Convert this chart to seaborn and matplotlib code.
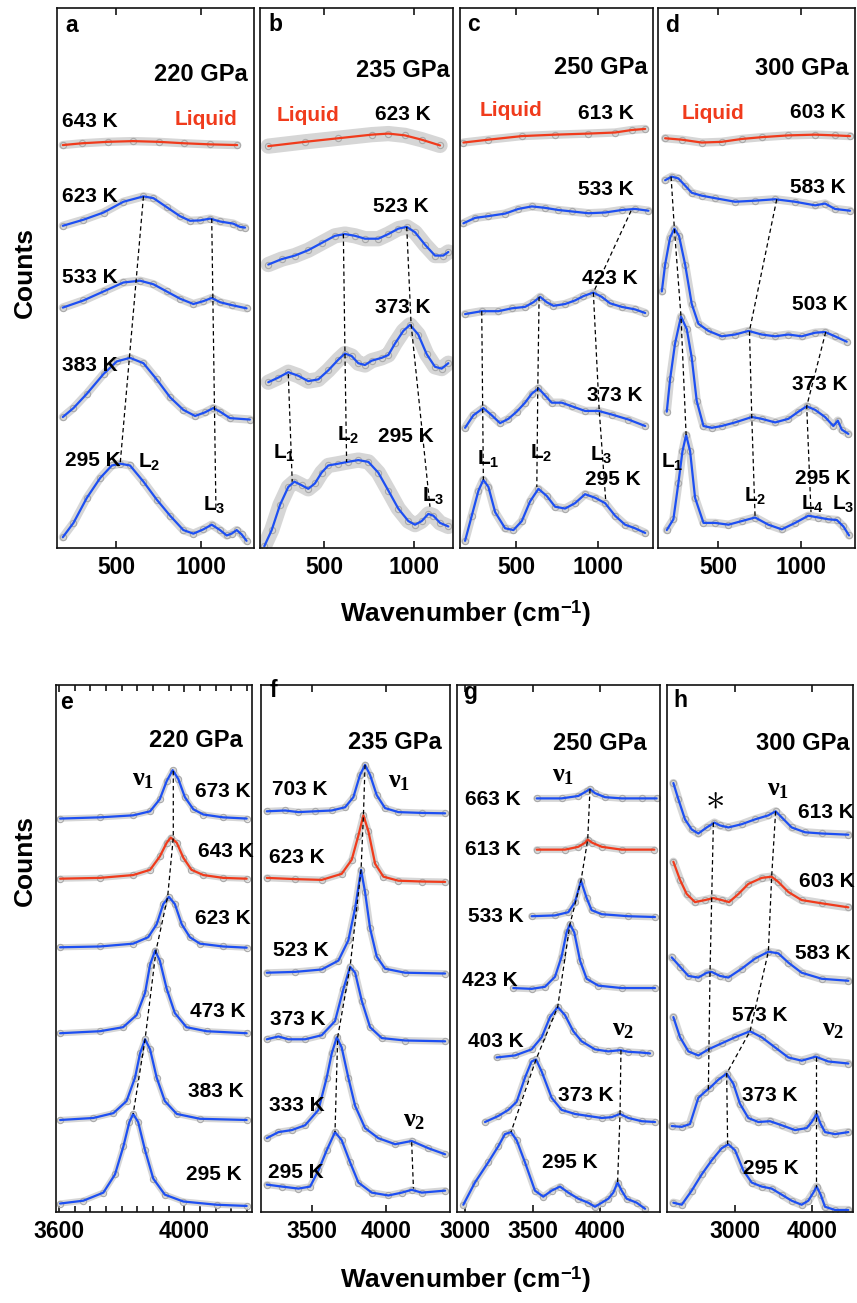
import matplotlib
matplotlib.use("Agg")
import matplotlib.pyplot as plt
import numpy as np
import seaborn as sns

sns.set_style("ticks")
plt.rcParams["font.family"] = ["Liberation Sans", "DejaVu Sans"]
plt.rcParams["font.weight"] = "bold"
plt.rcParams["text.color"] = "black"
plt.rcParams["xtick.color"] = "black"
plt.rcParams["mathtext.fontset"] = "custom"
plt.rcParams["mathtext.rm"] = "Liberation Serif"
plt.rcParams["mathtext.it"] = "Liberation Serif:bold"
plt.rcParams["mathtext.bf"] = "Liberation Sans:bold"

# spectra: x = wavenumber (cm-1),
# y = position in the frame read as picture rows (count axis drawn inverted)

# a : 220 GPa, lattice modes
a643_x = [186, 300, 450, 600, 750, 900, 1050, 1213]
a643_y = [407, 402, 398, 396, 398, 402, 405, 407]
a623_x = [186, 308, 426, 543, 661, 720, 798, 876, 935, 994, 1053, 1112, 1190, 1229, 1259]
a623_y = [632, 615, 595, 565, 550, 555, 580, 605, 618, 617, 612, 620, 626, 635, 637]
a533_x = [186, 308, 426, 543, 641, 720, 798, 876, 955, 1014, 1063, 1112, 1180, 1268]
a533_y = [860, 840, 815, 790, 785, 795, 815, 835, 850, 842, 833, 845, 853, 862]
a383_x = [186, 249, 328, 426, 504, 582, 661, 739, 818, 896, 965, 1023, 1072, 1112, 1170, 1288]
a383_y = [1165, 1140, 1100, 1045, 1010, 1000, 1015, 1060, 1110, 1145, 1162, 1152, 1140, 1150, 1168, 1172]
a295_x = [186, 249, 328, 406, 475, 524, 582, 661, 739, 818, 896, 955, 1014, 1063, 1112, 1151, 1180, 1210, 1239, 1268]
a295_y = [1500, 1460, 1390, 1335, 1300, 1295, 1300, 1345, 1395, 1440, 1480, 1490, 1478, 1465, 1480, 1495, 1490, 1480, 1492, 1510]
aL2_x, aL2_y = [661, 524], [550, 1295]
aL3_x, aL3_y = [1063, 1088], [612, 1425]

# b : 235 GPa
b623_x = [189, 393, 578, 763, 856, 948, 1041, 1143]
b623_y = [410, 398, 388, 378, 375, 380, 392, 408]
b523_x = [189, 263, 337, 411, 485, 559, 615, 671, 726, 800, 856, 911, 958, 1004, 1060, 1115, 1161, 1189]
b523_y = [740, 725, 715, 700, 680, 660, 655, 660, 668, 668, 655, 640, 635, 650, 685, 715, 715, 705]
b373_x = [189, 245, 300, 356, 411, 467, 522, 578, 615, 652, 689, 726, 763, 819, 856, 893, 939, 976, 1022, 1069, 1115, 1152, 1189]
b373_y = [1068, 1055, 1040, 1050, 1065, 1060, 1035, 1005, 988, 995, 1015, 1020, 1008, 1000, 992, 960, 925, 908, 935, 990, 1025, 1030, 1015]
b295_x = [167, 208, 254, 300, 334, 374, 411, 448, 485, 522, 578, 630, 689, 745, 800, 856, 911, 967, 1004, 1041, 1078, 1106, 1143, 1189]
b295_y = [1525, 1480, 1410, 1360, 1345, 1355, 1365, 1350, 1320, 1300, 1295, 1290, 1285, 1290, 1320, 1370, 1420, 1455, 1465, 1455, 1435, 1440, 1460, 1470]
bL1_x, bL1_y = [300, 322], [1045, 1345]
bL2_x, bL2_y = [606, 615, 624], [655, 990, 1290]
bL3_x, bL3_y = [958, 982, 1087], [635, 905, 1415]

# c : 250 GPa
c613_x = [178, 331, 535, 739, 943, 1106, 1208, 1290]
c613_y = [400, 392, 382, 378, 375, 372, 365, 362]
c533_x = [178, 249, 331, 433, 514, 596, 678, 759, 841, 943, 1045, 1147, 1228, 1310]
c533_y = [625, 610, 605, 598, 585, 578, 582, 588, 592, 597, 595, 588, 585, 590]
c423_x = [188, 290, 392, 474, 555, 606, 647, 688, 729, 800, 861, 912, 973, 1024, 1075, 1147, 1228, 1290]
c423_y = [878, 870, 870, 862, 858, 845, 830, 845, 855, 850, 840, 828, 818, 830, 848, 858, 865, 875]
c373_x = [188, 239, 300, 351, 402, 453, 504, 555, 596, 637, 678, 718, 780, 841, 922, 1004, 1086, 1188, 1290]
c373_y = [1195, 1160, 1140, 1160, 1182, 1170, 1150, 1125, 1100, 1085, 1105, 1125, 1125, 1135, 1148, 1148, 1158, 1172, 1190]
c295_x = [188, 229, 270, 300, 331, 372, 433, 484, 535, 586, 637, 688, 739, 800, 861, 922, 984, 1045, 1106, 1167, 1228, 1290]
c295_y = [1510, 1440, 1370, 1340, 1360, 1430, 1475, 1480, 1455, 1400, 1365, 1385, 1415, 1420, 1405, 1380, 1390, 1405, 1440, 1465, 1475, 1488]
cL1_x, cL1_y = [290, 300], [870, 1340]
cL2_x, cL2_y = [641, 633, 627], [830, 1085, 1360]
cL3_x, cL3_y = [1204, 973, 1008, 1049], [590, 818, 1140, 1400]

# d : 300 GPa
d603_x = [178, 279, 399, 520, 641, 762, 923, 1085, 1205, 1296]
d603_y = [388, 392, 400, 398, 390, 385, 380, 378, 380, 382]
d583_x = [178, 218, 258, 299, 339, 399, 480, 601, 722, 843, 964, 1085, 1145, 1205, 1296]
d583_y = [505, 495, 500, 520, 540, 548, 555, 565, 562, 558, 565, 575, 570, 585, 590]
d503_x = [158, 178, 208, 234, 262, 299, 339, 379, 440, 520, 601, 682, 762, 843, 923, 1004, 1085, 1145, 1205, 1276]
d503_y = [815, 740, 665, 640, 660, 740, 850, 905, 925, 940, 935, 925, 935, 940, 935, 940, 930, 928, 940, 955]
d373_x = [188, 208, 238, 274, 309, 339, 369, 410, 460, 520, 601, 702, 762, 843, 923, 984, 1034, 1085, 1145, 1195, 1222, 1246, 1286]
d373_y = [1150, 1060, 960, 885, 920, 1000, 1120, 1190, 1195, 1190, 1180, 1165, 1170, 1180, 1170, 1150, 1135, 1145, 1165, 1190, 1175, 1200, 1212]
d295_x = [188, 228, 258, 283, 305, 329, 359, 410, 480, 561, 641, 722, 802, 883, 964, 1044, 1105, 1165, 1216, 1256, 1290]
d295_y = [1480, 1450, 1350, 1260, 1215, 1260, 1390, 1460, 1460, 1465, 1455, 1445, 1465, 1478, 1460, 1440, 1445, 1450, 1452, 1470, 1495]
dL1_x, dL1_y = [214, 234, 274, 305], [495, 640, 885, 1215]
dL2_x, dL2_y = [853, 688, 702, 722], [558, 925, 1165, 1445]
dL4_x, dL4_y = [1149, 1034, 1060], [928, 1135, 1430]

# e : 220 GPa, vibron
e673_x = [3604, 3731, 3837, 3891, 3922, 3944, 3963, 3981, 4002, 4029, 4061, 4124, 4199]
e673_y = [418, 415, 410, 400, 370, 325, 298, 320, 365, 395, 408, 415, 418]
e643_x = [3604, 3731, 3837, 3891, 3922, 3944, 3957, 3976, 3997, 4023, 4061, 4124, 4199]
e643_y = [567, 565, 558, 545, 512, 478, 465, 478, 515, 545, 558, 565, 567]
e623_x = [3604, 3731, 3837, 3885, 3912, 3933, 3951, 3970, 3992, 4018, 4050, 4124, 4199]
e623_y = [737, 735, 728, 712, 680, 630, 612, 630, 680, 712, 728, 735, 738]
e473_x = [3604, 3731, 3805, 3848, 3875, 3891, 3907, 3922, 3944, 3970, 4007, 4071, 4199]
e473_y = [950, 945, 935, 905, 850, 780, 745, 770, 840, 900, 935, 945, 950]
e383_x = [3604, 3710, 3774, 3816, 3843, 3859, 3875, 3891, 3912, 3938, 3976, 4050, 4199]
e383_y = [1165, 1160, 1148, 1118, 1060, 1000, 965, 990, 1060, 1118, 1150, 1162, 1165]
e295_x = [3604, 3678, 3742, 3779, 3806, 3825, 3837, 3853, 3875, 3901, 3938, 3997, 4103, 4199]
e295_y = [1372, 1365, 1345, 1300, 1230, 1170, 1150, 1170, 1240, 1310, 1350, 1367, 1375, 1378]
ev1_x = [3965, 3965, 3947, 3910, 3875, 3837]
ev1_y = [300, 465, 612, 745, 965, 1150]

# f : 235 GPa
f703_x = [3196, 3320, 3410, 3522, 3635, 3725, 3781, 3826, 3860, 3894, 3939, 3995, 4085, 4243, 4401]
f703_y = [400, 398, 402, 400, 398, 390, 365, 310, 285, 310, 360, 392, 402, 404, 405]
f623_x = [3196, 3387, 3567, 3702, 3770, 3815, 3849, 3883, 3928, 3984, 4085, 4243, 4401]
f623_y = [565, 568, 570, 555, 520, 460, 410, 450, 530, 562, 572, 574, 575]
f523_x = [3196, 3387, 3567, 3680, 3747, 3793, 3833, 3860, 3894, 3939, 3995, 4130, 4401]
f523_y = [800, 798, 792, 770, 720, 640, 545, 600, 690, 760, 790, 800, 802]
f373_x = [3196, 3275, 3342, 3455, 3567, 3657, 3714, 3759, 3793, 3838, 3894, 3973, 4130, 4401]
f373_y = [965, 958, 965, 965, 955, 920, 840, 785, 800, 870, 935, 962, 968, 970]
f333_x = [3196, 3275, 3365, 3455, 3545, 3601, 3635, 3669, 3702, 3747, 3793, 3860, 3950, 4063, 4175, 4288, 4401]
f333_y = [1210, 1195, 1190, 1178, 1140, 1060, 1000, 960, 985, 1060, 1130, 1185, 1210, 1225, 1217, 1235, 1250]
f295_x = [3196, 3297, 3410, 3489, 3545, 3601, 3657, 3702, 3759, 3815, 3905, 4018, 4108, 4175, 4243, 4401]
f295_y = [1325, 1330, 1335, 1330, 1290, 1240, 1195, 1215, 1270, 1320, 1345, 1352, 1345, 1338, 1345, 1340]
fv1_x = [3860, 3849, 3833, 3759, 3675, 3657]
fv1_y = [285, 410, 545, 785, 960, 1195]
fv2_x, fv2_y = [4175, 4187], [1220, 1335]

# g : 250 GPa
g663_x = [3530, 3715, 3839, 3901, 3926, 3963, 4037, 4161, 4310, 4421]
g663_y = [368, 368, 362, 350, 345, 355, 365, 368, 368, 368]
g613_x = [3530, 3740, 3839, 3889, 3909, 3943, 4013, 4161, 4404]
g613_y = [495, 495, 488, 478, 470, 478, 488, 495, 495]
g533_x = [3492, 3666, 3765, 3814, 3859, 3901, 3938, 4013, 4211, 4409]
g533_y = [660, 658, 650, 625, 572, 615, 645, 655, 660, 662]
g423_x = [3356, 3492, 3591, 3666, 3715, 3752, 3777, 3809, 3852, 3901, 3988, 4161, 4409]
g423_y = [838, 840, 835, 810, 760, 700, 680, 700, 770, 815, 832, 838, 838]
g403_x = [3232, 3369, 3492, 3567, 3629, 3686, 3740, 3802, 3864, 3963, 4062, 4149, 4211, 4310, 4372]
g403_y = [1010, 1005, 990, 960, 910, 885, 905, 945, 970, 990, 995, 992, 996, 998, 1000]
g373_x = [3146, 3245, 3319, 3381, 3443, 3492, 3525, 3567, 3641, 3715, 3814, 3913, 4013, 4087, 4149, 4211, 4310, 4409]
g373_y = [1170, 1155, 1140, 1120, 1060, 1020, 1015, 1045, 1110, 1140, 1150, 1155, 1160, 1158, 1150, 1160, 1168, 1170]
g295_x = [2985, 3071, 3170, 3245, 3294, 3339, 3381, 3443, 3517, 3579, 3641, 3703, 3765, 3839, 3913, 3963, 4013, 4062, 4099, 4131, 4161, 4198, 4273, 4335]
g295_y = [1375, 1320, 1270, 1230, 1200, 1195, 1215, 1270, 1340, 1355, 1340, 1330, 1345, 1360, 1370, 1380, 1370, 1360, 1345, 1320, 1340, 1360, 1370, 1385]
gv1_x = [3926, 3909, 3859, 3777, 3686, 3525, 3339]
gv1_y = [345, 470, 572, 680, 885, 1015, 1195]
gv2_x, gv2_y = [4156, 4149, 4131], [992, 1150, 1320]

# h : 300 GPa
h613_x = [2196, 2261, 2348, 2435, 2522, 2631, 2731, 2804, 2913, 3087, 3261, 3435, 3530, 3609, 3739, 3913, 4130, 4478]
h613_y = [330, 370, 420, 445, 455, 440, 428, 435, 440, 432, 420, 410, 400, 415, 440, 452, 455, 458]
h603_x = [2196, 2283, 2370, 2478, 2609, 2718, 2826, 2922, 3044, 3174, 3348, 3478, 3565, 3696, 3869, 4130, 4478]
h603_y = [525, 570, 605, 625, 620, 615, 620, 625, 605, 580, 565, 562, 575, 600, 620, 628, 638]
h583_x = [2174, 2283, 2392, 2522, 2631, 2696, 2804, 2913, 3087, 3261, 3435, 3565, 3696, 3869, 4130, 4478]
h583_y = [762, 785, 808, 812, 800, 798, 808, 812, 790, 765, 748, 752, 775, 800, 815, 820]
h573_x = [2196, 2283, 2392, 2522, 2652, 2826, 3000, 3196, 3348, 3522, 3696, 3869, 4052, 4217, 4478]
h573_y = [910, 960, 995, 1005, 990, 975, 960, 945, 960, 985, 1010, 1018, 1008, 1020, 1025]
h373_x = [2174, 2305, 2413, 2522, 2609, 2674, 2783, 2891, 2978, 3065, 3174, 3304, 3456, 3609, 3782, 3935, 4000, 4065, 4117, 4174, 4304, 4478]
h373_y = [1180, 1182, 1175, 1110, 1095, 1085, 1065, 1050, 1075, 1125, 1160, 1170, 1168, 1178, 1190, 1185, 1170, 1150, 1175, 1195, 1200, 1195]
h295_x = [2196, 2305, 2435, 2565, 2696, 2826, 2913, 3000, 3109, 3217, 3348, 3478, 3609, 3739, 3869, 3956, 4022, 4065, 4117, 4174, 4304, 4478]
h295_y = [1370, 1375, 1340, 1300, 1265, 1235, 1225, 1240, 1290, 1320, 1330, 1335, 1350, 1365, 1375, 1365, 1345, 1330, 1350, 1380, 1388, 1388]
hst_x, hst_y = [2718, 2696, 2674, 2652], [428, 615, 800, 1095]
hv1_x = [3530, 3478, 3435, 3196, 2891, 2904]
hv1_y = [400, 562, 748, 945, 1050, 1225]
hv2_x, hv2_y = [4052, 4052], [1008, 1330]

BLUE = "#1d4ff2"
RED = "#f03b1c"

spectra = {
    "a": [(a643_x, a643_y, RED), (a623_x, a623_y, BLUE), (a533_x, a533_y, BLUE),
          (a383_x, a383_y, BLUE), (a295_x, a295_y, BLUE)],
    "b": [(b623_x, b623_y, RED), (b523_x, b523_y, BLUE), (b373_x, b373_y, BLUE),
          (b295_x, b295_y, BLUE)],
    "c": [(c613_x, c613_y, RED), (c533_x, c533_y, BLUE), (c423_x, c423_y, BLUE),
          (c373_x, c373_y, BLUE), (c295_x, c295_y, BLUE)],
    "d": [(d603_x, d603_y, RED), (d583_x, d583_y, BLUE), (d503_x, d503_y, BLUE),
          (d373_x, d373_y, BLUE), (d295_x, d295_y, BLUE)],
    "e": [(e673_x, e673_y, BLUE), (e643_x, e643_y, RED), (e623_x, e623_y, BLUE),
          (e473_x, e473_y, BLUE), (e383_x, e383_y, BLUE), (e295_x, e295_y, BLUE)],
    "f": [(f703_x, f703_y, BLUE), (f623_x, f623_y, RED), (f523_x, f523_y, BLUE),
          (f373_x, f373_y, BLUE), (f333_x, f333_y, BLUE), (f295_x, f295_y, BLUE)],
    "g": [(g663_x, g663_y, BLUE), (g613_x, g613_y, RED), (g533_x, g533_y, BLUE),
          (g423_x, g423_y, BLUE), (g403_x, g403_y, BLUE), (g373_x, g373_y, BLUE),
          (g295_x, g295_y, BLUE)],
    "h": [(h613_x, h613_y, BLUE), (h603_x, h603_y, RED), (h583_x, h583_y, BLUE),
          (h573_x, h573_y, BLUE), (h373_x, h373_y, BLUE), (h295_x, h295_y, BLUE)],
}
guides = {
    "a": [(aL2_x, aL2_y), (aL3_x, aL3_y)],
    "b": [(bL1_x, bL1_y), (bL2_x, bL2_y), (bL3_x, bL3_y)],
    "c": [(cL1_x, cL1_y), (cL2_x, cL2_y), (cL3_x, cL3_y)],
    "d": [(dL1_x, dL1_y), (dL2_x, dL2_y), (dL4_x, dL4_y)],
    "e": [(ev1_x, ev1_y)],
    "f": [(fv1_x, fv1_y), (fv2_x, fv2_y)],
    "g": [(gv1_x, gv1_y), (gv2_x, gv2_y)],
    "h": [(hst_x, hst_y), (hv1_x, hv1_y), (hv2_x, hv2_y)],
}

W, H = 857, 1303
fig = plt.figure(figsize=(W / 100, H / 100), dpi=100)


def box(l, r, t, b):
    return fig.add_axes([l / W, 1 - b / H, (r - l) / W, (b - t) / H])


frames = {
    "a": (57, 254, 8, 548), "b": (260, 453, 8, 548), "c": (460, 653, 8, 548), "d": (658, 855, 8, 548),
    "e": (56, 252, 685, 1212), "f": (261, 450, 685, 1212), "g": (457, 660, 685, 1212), "h": (667, 853, 685, 1212),
}
xlims = {"a": (152, 1312), "b": (143, 1215), "c": (157, 1338), "d": (135, 1326),
         "e": (3591, 4216), "f": (3157, 4434), "g": (2938, 4446), "h": (2113, 4539)}
xmajor = {"a": [500, 1000], "b": [500, 1000], "c": [500, 1000], "d": [500, 1000],
          "e": [3600, 4000], "f": [3500, 4000], "g": [3000, 3500, 4000], "h": [3000, 4000]}
band = {"a": 6, "b": 11, "c": 6, "d": 6, "e": 4.5, "f": 5, "g": 5, "h": 6}

axes = {}
for k, (l, r, t, b) in frames.items():
    ax = box(l, r, t, b)
    axes[k] = ax
    for x, y, col in spectra[k]:
        sns.lineplot(x=x, y=y, ax=ax, color="#d6d6d6", lw=band[k], estimator=None, sort=False,
                     solid_capstyle="round")
        sns.lineplot(x=x, y=y, ax=ax, color="#a9a9a9", lw=0, marker="o", markersize=4.5,
                     markerfacecolor="none", markeredgecolor="#a9a9a9", markeredgewidth=0.8,
                     estimator=None, sort=False)
        sns.lineplot(x=x, y=y, ax=ax, color=col, lw=1.6, estimator=None, sort=False)
    for x, y in guides[k]:
        sns.lineplot(x=x, y=y, ax=ax, color="black", lw=0.9, linestyle=(0, (3.5, 2.5)),
                     estimator=None, sort=False)
    ax.set_xlim(*xlims[k])
    ax.set_ylim((1530, 25) if k in "abcd" else (1393, 87))
    ax.set_xticks(xmajor[k])
    ax.set_xticklabels([str(v) for v in xmajor[k]])
    if k == "e":
        ax.set_xticks(np.arange(3600, 4201, 50), minor=True)
    ax.set_yticks([])
    ax.set_xlabel("")
    ax.set_ylabel("")
    ax.tick_params(axis="x", which="both", direction="in", top=True, bottom=True,
                   labelsize=16.5, pad=6, width=1.1, color="black", labelcolor="black")
    ax.tick_params(axis="x", which="major", length=5)
    ax.tick_params(axis="x", which="minor", length=4)
    for s in ax.spines.values():
        s.set_linewidth(1.2)
        s.set_color("#111111")

# labels: (text, x, y, align, colour, size)
notes = {
    "a": [("a", 200, 75, "left", "k", 16.5), ("220 GPa", 1278, 210, "right", "k", 17),
          ("643 K", 180, 340, "left", "k", 15), ("Liquid", 847, 335, "left", RED, 15),
          ("623 K", 180, 550, "left", "k", 15), ("533 K", 180, 775, "left", "k", 15),
          ("383 K", 180, 1020, "left", "k", 15), ("295 K", 200, 1285, "left", "k", 15),
          (r"L$_\mathbf{2}$", 631, 1290, "left", "k", 15), (r"L$_\mathbf{3}$", 1014, 1410, "left", "k", 15)],
    "b": [("b", 189, 70, "left", "k", 16.5), ("235 GPa", 1198, 200, "right", "k", 17),
          ("Liquid", 235, 325, "left", RED, 15), ("623 K", 782, 322, "left", "k", 15),
          ("523 K", 772, 578, "left", "k", 15), ("373 K", 782, 860, "left", "k", 15),
          (r"L$_\mathbf{1}$", 217, 1265, "left", "k", 15), (r"L$_\mathbf{2}$", 569, 1215, "left", "k", 15),
          ("295 K", 800, 1220, "left", "k", 15), (r"L$_\mathbf{3}$", 1041, 1385, "left", "k", 15)],
    "c": [("c", 198, 70, "left", "k", 16.5), ("250 GPa", 1306, 190, "right", "k", 17),
          ("Liquid", 280, 310, "left", RED, 15), ("613 K", 882, 318, "left", "k", 15),
          ("533 K", 882, 530, "left", "k", 15), ("423 K", 902, 780, "left", "k", 15),
          ("373 K", 932, 1105, "left", "k", 15), (r"L$_\mathbf{1}$", 259, 1280, "left", "k", 15),
          (r"L$_\mathbf{2}$", 586, 1265, "left", "k", 15), (r"L$_\mathbf{3}$", 953, 1270, "left", "k", 15),
          ("295 K", 922, 1340, "left", "k", 15)],
    "d": [("d", 178, 75, "left", "k", 16.5), ("300 GPa", 1286, 195, "right", "k", 17),
          ("Liquid", 279, 320, "left", RED, 15), ("603 K", 933, 315, "left", "k", 15),
          ("583 K", 933, 525, "left", "k", 15), ("503 K", 943, 850, "left", "k", 15),
          ("373 K", 943, 1075, "left", "k", 15), (r"L$_\mathbf{1}$", 154, 1290, "left", "k", 15),
          ("295 K", 964, 1335, "left", "k", 15), (r"L$_\mathbf{2}$", 657, 1385, "left", "k", 15),
          (r"L$_\mathbf{4}$", 998, 1405, "left", "k", 15), (r"L$_\mathbf{3}$", 1185, 1405, "left", "k", 15)],
    "e": [("e", 3604, 130, "left", "k", 16.5), ("220 GPa", 4186, 225, "right", "k", 17),
          (r"$\nu_1$", 3832, 320, "left", "k", 19), ("673 K", 4034, 350, "left", "k", 15),
          ("643 K", 4045, 500, "left", "k", 15), ("623 K", 4034, 665, "left", "k", 15),
          ("473 K", 4018, 895, "left", "k", 15), ("383 K", 4013, 1095, "left", "k", 15),
          ("295 K", 4007, 1300, "left", "k", 15)],
    "f": [("f", 3212, 100, "left", "k", 16.5), ("235 GPa", 4378, 230, "right", "k", 17),
          ("703 K", 3230, 345, "left", "k", 15), (r"$\nu_1$", 4018, 325, "left", "k", 19),
          ("623 K", 3212, 515, "left", "k", 15), ("523 K", 3241, 745, "left", "k", 15),
          ("373 K", 3218, 915, "left", "k", 15), ("333 K", 3212, 1130, "left", "k", 15),
          (r"$\nu_2$", 4119, 1165, "left", "k", 19), ("295 K", 3202, 1295, "left", "k", 15)],
    "g": [("g", 2985, 105, "left", "k", 16.5), ("250 GPa", 4347, 232, "right", "k", 17),
          (r"$\nu_1$", 3641, 310, "left", "k", 19), ("663 K", 2997, 370, "left", "k", 15),
          ("613 K", 2997, 495, "left", "k", 15), ("533 K", 3022, 660, "left", "k", 15),
          ("423 K", 2972, 820, "left", "k", 15), ("403 K", 3022, 970, "left", "k", 15),
          (r"$\nu_2$", 4087, 940, "left", "k", 19), ("373 K", 3691, 1105, "left", "k", 15),
          ("295 K", 3572, 1270, "left", "k", 15)],
    "h": [("h", 2196, 125, "left", "k", 16.5), ("300 GPa", 4500, 232, "right", "k", 17),
          (r"$\ast$", 2610, 368, "left", "k", 28), (r"$\nu_1$", 3413, 345, "left", "k", 19),
          ("613 K", 3817, 402, "left", "k", 15), ("603 K", 3835, 575, "left", "k", 15),
          ("583 K", 3782, 752, "left", "k", 15), ("573 K", 2957, 905, "left", "k", 15),
          (r"$\nu_2$", 4130, 940, "left", "k", 19), ("373 K", 3096, 1105, "left", "k", 15),
          ("295 K", 3109, 1285, "left", "k", 15)],
}
for k, items in notes.items():
    for txt, x, y, ha, col, size in items:
        axes[k].text(x, y, txt, ha=ha, va="center", color=col, fontsize=size, fontweight="bold")

for yc in (614, 1280):
    fig.text(466 / W, 1 - yc / H, r"Wavenumber (cm$^{\mathbf{-1}}$)", ha="center", va="center",
             fontsize=19, fontweight="bold", color="black")
for yc in (272, 860):
    fig.text(25 / W, 1 - yc / H, "Counts", ha="center", va="center", rotation=90,
             fontsize=19, fontweight="bold", color="black")

fig.savefig("out.png", dpi=100)
